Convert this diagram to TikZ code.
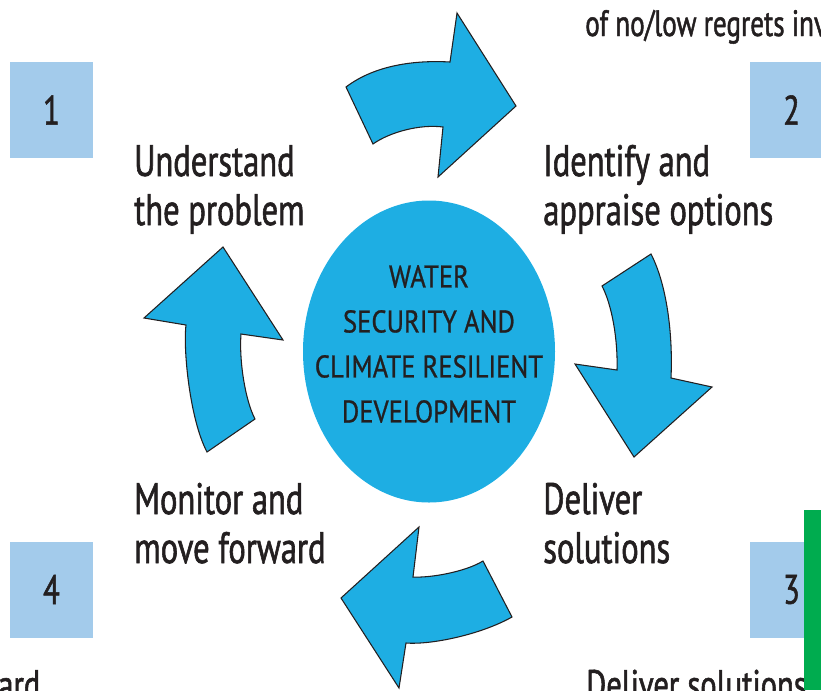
\documentclass[tikz,border=0pt]{standalone}
\usepackage{fontspec}
\setmainfont{PT Sans}[FakeStretch=0.74,FakeBold=1.3]
\newfontfamily\hubfont{PT Sans}[FakeStretch=0.85,FakeBold=0.8]
\usetikzlibrary{shapes.geometric}
\usetikzlibrary{positioning}
\definecolor{cyclecyan}{HTML}{1EAEE3}
\definecolor{stepblue}{HTML}{A3CBEB}
\definecolor{bargreen}{HTML}{00AC4F}
\definecolor{inkdark}{HTML}{231F20}

\begin{document}
\begin{tikzpicture}[
  x = 0.75pt, y = -0.75pt,
  numbox/.style = {fill=stepblue, minimum width=62.25pt, minimum height=72pt, inner sep=0pt, text=inkdark, font=\fontsize{31}{32}\selectfont},
  hub/.style = {ellipse, fill=cyclecyan, minimum width=189pt, minimum height=226.5pt, inner sep=0pt},
  hubtext/.style = {align=center, inner sep=0pt, text=inkdark, font=\hubfont\fontsize{23.5}{33.75}\selectfont},
  steplabel/.style = {anchor=base west, align=left, inner sep=0pt, text=inkdark, font=\fontsize{33}{36.75}\selectfont},
  cuttext/.style = {anchor=base west, inner sep=0pt, text=inkdark, font=\fontsize{27.5}{30}\selectfont},
  blockarrow/.style = {fill=cyclecyan, draw=inkdark, line width=0.8pt, line join=miter}
  ]
  \useasboundingbox (0,0) rectangle (821,690);

  % cut-off text round the edges
  \node[cuttext] (topcut) at (585,36) {of no/low regrets inv};
  \node[cuttext,font=\fontsize{31}{32}\selectfont] (leftcut) at (-2,699) {ard};
  \node[cuttext,font=\fontsize{31}{32}\selectfont] (rightcut) at (586,699) {Deliver solutions};

  % numbered steps
  \node[numbox] (n1) at (51.5,110) {1};
  \node[numbox] (n2) at (791.5,110) {2};
  \node[numbox] (n3) at (791.5,589.5) {3};
  \node[numbox] (n4) at (51.5,589.5) {4};

  % centre
  \node[hub] (hub) at (429,351.5) {};
  \node[hubtext] (hubt) at (429,344) {WATER\\SECURITY AND\\CLIMATE RESILIENT\\DEVELOPMENT};

  % step texts (base is the second line)
  \node[steplabel] (s1) at (134,225) {Understand\\the problem};
  \node[steplabel] (s2) at (543,225) {Identify and\\appraise options};
  \node[steplabel] (s3) at (543,563) {Deliver\\solutions};
  \node[steplabel] (s4) at (134,563) {Monitor and\\move forward};

  % curved block arrows
  \draw[blockarrow] (346,87) .. controls (375,65) and (415,60) .. (450,62)
    -- (457,13) -- (516,106) -- (438,177) -- (443,127)
    .. controls (420,124) and (390,132) .. (373,144) -- cycle;
  \draw[blockarrow] (651,254) -- (602,286) .. controls (612,305) and (618,340) .. (617,370)
    -- (575,364) -- (634,457) -- (712,387) -- (671,378)
    .. controls (673,335) and (667,285) .. cycle;
  \draw[blockarrow] (483,561) .. controls (465,572) and (430,578) .. (413,577)
    -- (419,527) -- (341,598) -- (399,688) -- (406,643)
    .. controls (430,645) and (480,635) .. (512,617) -- cycle;
  \draw[blockarrow] (223,247) -- (283,340) -- (241,334)
    .. controls (239,360) and (245,400) .. (255,419) -- (207,452)
    .. controls (190,420) and (183,350) .. (186,325) -- (144,318) -- cycle;

  \fill[bargreen] (804,510) rectangle (821,690);
\end{tikzpicture}
\end{document}
